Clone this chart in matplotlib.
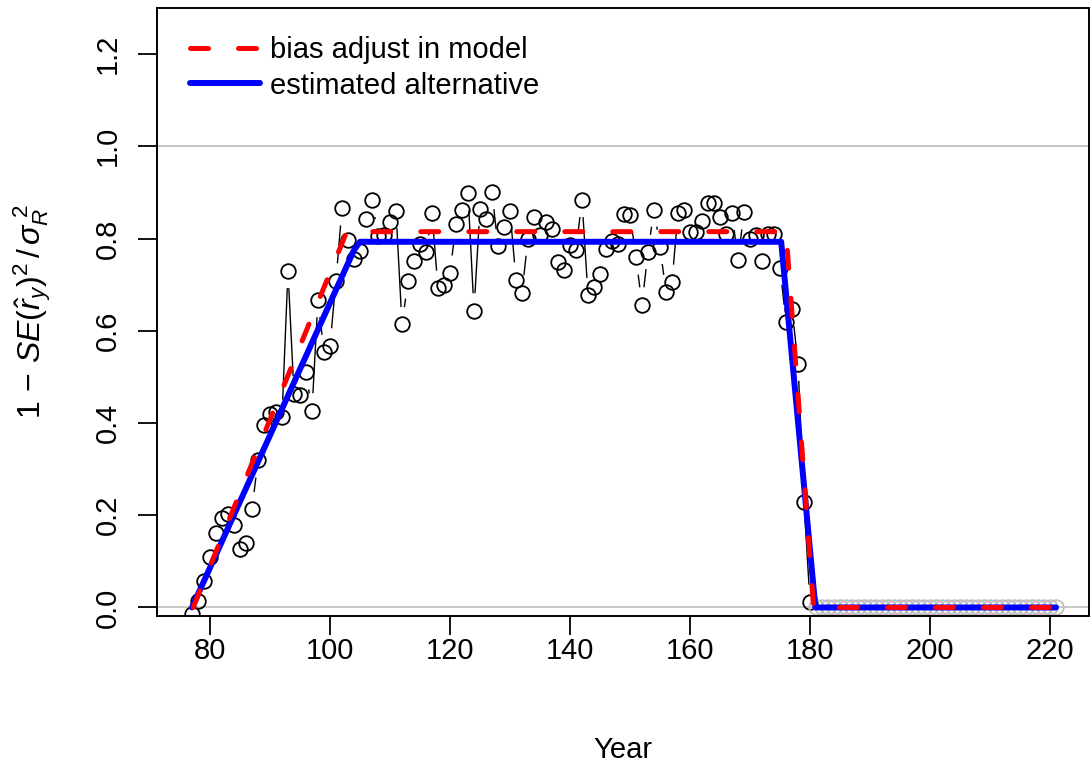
import numpy as np
import matplotlib
matplotlib.use('Agg')
import matplotlib.pyplot as plt

plt.rcParams['font.family'] = ['Liberation Sans', 'DejaVu Sans']
plt.rcParams['mathtext.fontset'] = 'custom'
plt.rcParams['mathtext.rm'] = 'Liberation Sans'
plt.rcParams['mathtext.it'] = 'Liberation Sans:italic'
plt.rcParams['mathtext.bf'] = 'Liberation Sans:bold'

# years with estimated recruitment deviations
years = list(range(77, 222))

# 1 - SE^2 / sigmaR^2, main period (77-180)
main_vals = [-0.015, 0.014, 0.057, 0.110, 0.161, 0.195, 0.203, 0.178, 0.127, 0.140,
             0.213, 0.319, 0.395, 0.420, 0.424, 0.413, 0.730, 0.464, 0.460, 0.510,
             0.427, 0.667, 0.554, 0.568, 0.709, 0.866, 0.796, 0.756, 0.774, 0.843,
             0.884, 0.805, 0.808, 0.836, 0.860, 0.614, 0.707, 0.751, 0.788, 0.770,
             0.855, 0.693, 0.700, 0.726, 0.831, 0.863, 0.899, 0.644, 0.865, 0.842,
             0.901, 0.783, 0.825, 0.860, 0.711, 0.683, 0.800, 0.847, 0.807, 0.836,
             0.821, 0.750, 0.732, 0.787, 0.775, 0.884, 0.677, 0.695, 0.724, 0.777,
             0.794, 0.789, 0.854, 0.852, 0.759, 0.657, 0.771, 0.863, 0.782, 0.684,
             0.706, 0.855, 0.861, 0.814, 0.814, 0.839, 0.878, 0.878, 0.847, 0.810,
             0.856, 0.753, 0.857, 0.800, 0.807, 0.751, 0.810, 0.810, 0.737, 0.619,
             0.648, 0.529, 0.228, 0.012]
# forecast period (181-221)
fore_vals = [0.0, 0.0, 0.0, 0.0, 0.0, 0.0, 0.0, 0.0, 0.0, 0.0,
             0.0, 0.0, 0.0, 0.0, 0.0, 0.0, 0.0, 0.0, 0.0, 0.0,
             0.0, 0.0, 0.0, 0.0, 0.0, 0.0, 0.0, 0.0, 0.0, 0.0,
             0.0, 0.0, 0.0, 0.0, 0.0, 0.0, 0.0, 0.0, 0.0, 0.0, 0.0]

# bias adjustment ramps
model_ramp_x = [77.2, 102.8, 176.0, 180.6, 221]
model_ramp_y = [0.0, 0.815, 0.815, 0.0, 0.0]
alt_ramp_x = [77.0, 104.0, 105.0, 175.2, 180.9, 221]
alt_ramp_y = [0.0, 0.775, 0.793, 0.793, 0.0, 0.0]

vals = main_vals + fore_vals
n_main = len(main_vals)

fig = plt.figure(figsize=(10.92, 7.66), dpi=100)
ax = fig.add_axes([157 / 1092, 1 - 616 / 766, 932 / 1092, 608 / 766])
ax.set_xlim(71.17, 226.5)
ax.set_ylim(-0.0185, 1.30)


def gapped_lines(ax, x, y, gap=18):
    # R type="b": segments between points, cut short around each point
    pts = ax.transData.transform(np.column_stack([x, y]))
    inv = ax.transData.inverted()
    for p0, p1 in zip(pts[:-1], pts[1:]):
        d = p1 - p0
        L = np.hypot(d[0], d[1])
        if L <= 2 * gap:
            continue
        u = d / L
        seg = inv.transform(np.array([p0 + u * gap, p1 - u * gap]))
        ax.plot(seg[:, 0], seg[:, 1], color='black', lw=1.0, zorder=2)


ax.axhline(0, color='#BEBEBE', lw=1.2, zorder=1)
ax.axhline(1, color='#BEBEBE', lw=1.2, zorder=1)

gapped_lines(ax, years, vals)
ax.plot(years[:n_main], main_vals, 'o', ms=10.5, mfc='none', mec='black',
        mew=1.3, zorder=2)
ax.plot(years[n_main:], fore_vals, 'o', ms=10.5, mfc='none', mec='#BEBEBE',
        mew=1.3, zorder=2)

ax.plot(alt_ramp_x, alt_ramp_y, color='blue', lw=4.3,
        solid_capstyle='round', solid_joinstyle='round', zorder=3,
        label='estimated alternative')
ax.plot(model_ramp_x, model_ramp_y, color='red', lw=3.6, dashes=(3.6, 6),
        dash_capstyle='round', zorder=4, label='bias adjust in model')

ax.set_xticks([80, 100, 120, 140, 160, 180, 200, 220])
ax.set_yticks([0.0, 0.2, 0.4, 0.6, 0.8, 1.0, 1.2])
ax.set_yticklabels(['0.0', '0.2', '0.4', '0.6', '0.8', '1.0', '1.2'])
ax.tick_params(axis='both', direction='out', length=13.7, width=1.3,
               labelsize=21)
ax.tick_params(axis='x', pad=1.5)
ax.tick_params(axis='y', pad=11.5)
for lbl in ax.get_yticklabels():
    lbl.set_rotation(90)
    lbl.set_va('center')
for sp in ax.spines.values():
    sp.set_linewidth(1.4)

ax.set_xlabel('Year', fontsize=21)
ax.xaxis.set_label_coords(0.5, -0.198)
ax.set_ylabel(r'$1\,-\,SE(\hat{r}_y)^2\,/\,\sigma_R^{\ 2}$', fontsize=23)
ax.yaxis.set_label_coords(-0.112, 0.5)

h, l = ax.get_legend_handles_labels()
ax.legend(h[::-1], l[::-1], loc='upper left', bbox_to_anchor=(0.0354, 0.954),
          frameon=False, fontsize=21, borderpad=0, borderaxespad=0,
          handlelength=2.41, handletextpad=0.35, labelspacing=0.26)

fig.savefig('out.png', dpi=100)
